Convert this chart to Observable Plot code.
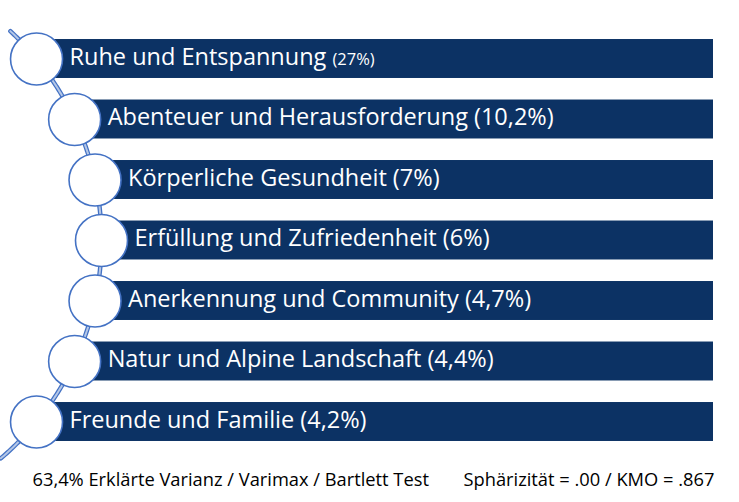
<!DOCTYPE html>
<html><head><meta charset="utf-8">
<script src="https://cdn.jsdelivr.net/npm/d3@7"></script>
<script src="https://cdn.jsdelivr.net/npm/@observablehq/plot@0.6"></script>
<style>
body{margin:0;background:#fff;}
#chart{width:739px;height:502px;}
</style></head><body><div id="chart"></div>
<script>
const categories = [
  "Ruhe und Entspannung",
  "Abenteuer und Herausforderung",
  "Körperliche Gesundheit",
  "Erfüllung und Zufriedenheit",
  "Anerkennung und Community",
  "Natur und Alpine Landschaft",
  "Freunde und Familie"
];
const shares = ["27%", "10,2%", "7%", "6%", "4,7%", "4,4%", "4,2%"];
const footnoteLeft = "63,4% Erklärte Varianz / Varimax / Bartlett Test";
const footnoteRight = "Sphärizität = .00 / KMO = .867";

const rows = categories.map((category, i) => ({i, category, share: shares[i]}));

// layout of the curved list (SmartArt-style arc)
const W = 739, H = 502;
const rowStep = 60.5, firstCenter = 58.5;
const mid = (rows.length - 1) / 2;
const arcR = 286, apexX = 101;
const arcX = t => apexX - arcR + Math.sqrt(Math.max(0, arcR * arcR - (rowStep * (t - mid)) ** 2));
const barRight = 713, barHalf = 0.322;
const curve = d3.range(-0.46, rows.length - 0.38, 0.02).map(t => ({t, x: arcX(t)}));

const FONT = "'Open Sans', Lato, sans-serif";
const BAR = "#0c3264", RING = "#4472c4";

const plot = Plot.plot({
  width: W, height: H,
  margin: 0,
  x: {type: "linear", domain: [0, W], range: [0, W], axis: null},
  y: {type: "linear", domain: [-0.5, rows.length - 0.5],
      range: [firstCenter - rowStep / 2, firstCenter - rowStep / 2 + rowStep * rows.length], axis: null},
  style: {fontFamily: FONT, background: "#fff"},
  marks: [
    Plot.rect(rows, {x1: d => arcX(d.i), x2: () => barRight, y1: d => d.i - barHalf, y2: d => d.i + barHalf, fill: BAR}),
    Plot.line(curve, {x: "x", y: "t", stroke: RING, strokeWidth: 4.5, curve: "linear"}),
    Plot.line(curve, {x: "x", y: "t", stroke: "#b4c7e7", strokeWidth: 2, curve: "linear"}),
    Plot.dot(rows, {x: d => arcX(d.i), y: "i", r: 26, fill: "white", stroke: RING, strokeWidth: 1.6}),
    Plot.text(rows, {x: d => arcX(d.i) + 33, y: "i", text: d => `${d.category} (${d.share})`,
      textAnchor: "start", fill: "white", fontSize: 23.5, fontFamily: FONT, dy: -2}),
    Plot.text([footnoteLeft], {frameAnchor: "bottom-left", text: d => d, dx: 32, dy: -22, lineAnchor: "middle",
      textAnchor: "start", fontSize: 18.3, fill: "#000", fontFamily: FONT}),
    Plot.text([footnoteRight], {frameAnchor: "bottom-left", text: d => d, dx: 463, dy: -22, lineAnchor: "middle",
      textAnchor: "start", fontSize: 18.3, fill: "#000", fontFamily: FONT})
  ]
});
document.getElementById("chart").appendChild(plot);

// first label: smaller percentage, as in the reference
d3.select(plot).selectAll("text").each(function() {
  const full = `${rows[0].category} (${rows[0].share})`;
  if (this.textContent === full) {
    const el = d3.select(this);
    el.text(null);
    el.append("tspan").text(rows[0].category + " ");
    el.append("tspan").attr("font-size", 16.5).text(`(${rows[0].share})`);
  }
});
</script></body></html>
